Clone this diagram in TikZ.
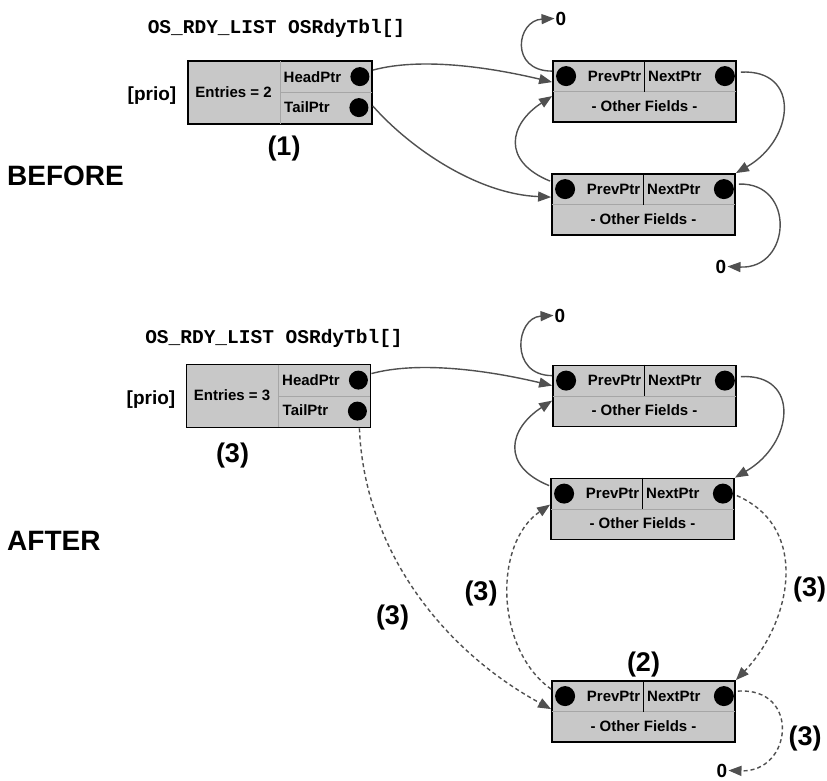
\documentclass[tikz,border=0pt]{standalone}
\usepackage{fontspec}
\setmainfont{Liberation Sans}
\setmonofont{Liberation Mono}
\usetikzlibrary{calc,arrows.meta}
\definecolor{boxgray}{HTML}{C8C8C8}
\definecolor{sepgray}{HTML}{A6A6A6}
\definecolor{linkgray}{HTML}{505050}

\newcommand\tcbnode[2]{%
  \node[tcbbox] (#1) at (#2) {};
  \draw[sepline] ($(#1.west)+(1,0)$) -- ($(#1.east)+(-1,0)$);
  \draw[black, line width=1.6pt] (#1.north) -- (#1.center);
  \node[dotn] (#1-p) at ($(#1.north west)+(14,16)$) {};
  \node[dotn] (#1-n) at ($(#1.north east)+(-12,16)$) {};
  \node[small, anchor=base east] (#1-pl) at ($(#1.north)+(-3,21)$) {PrevPtr};
  \node[small, anchor=base west] (#1-nl) at ($(#1.north)+(3.5,21)$) {NextPtr};
  \node[small, anchor=base] (#1-of) at ($(#1.north)+(0,51)$) {- Other Fields -};
}
\newcommand\rdylist[3]{%
  \node[listbox] (#1) at (#2) {};
  \draw[sepline] ($(#1.north)+(0,1)$) -- ($(#1.south)+(0,-1)$);
  \draw[sepline] (#1.center) -- ($(#1.east)+(-1,0)$);
  \node[dotn, minimum size=19pt] (#1-h) at ($(#1.north east)+(-13,16.5)$) {};
  \node[dotn, minimum size=19pt] (#1-t) at ($(#1.north east)+(-14,47.5)$) {};
  \node[small, anchor=base west] (#1-hl) at ($(#1.north)+(3.5,22)$) {HeadPtr};
  \node[small, anchor=base west] (#1-tl) at ($(#1.north)+(4,52)$) {TailPtr};
  \node[small, anchor=base] (#1-el) at ($(#1.north west)+(46.5,37)$) {Entries = #3};
}

\begin{document}
\begin{tikzpicture}[x=1pt,y=-1pt,
  tcbbox/.style={rectangle, draw=black, line width=1.8pt, fill=boxgray, minimum width=183pt, minimum height=61pt, inner sep=0pt},
  listbox/.style={rectangle, draw=black, line width=1.8pt, fill=boxgray, minimum width=184pt, minimum height=63pt, inner sep=0pt},
  sepline/.style={draw=sepgray, line width=0.8pt},
  dotn/.style={circle, fill=black, minimum size=20pt, inner sep=0pt},
  small/.style={font=\fontsize{15}{15}\selectfont\bfseries, inner sep=0pt},
  codetxt/.style={font=\fontsize{19.5}{20}\selectfont\ttfamily\bfseries, inner sep=0pt},
  prio/.style={font=\fontsize{19}{20}\selectfont\bfseries, inner sep=0pt},
  title/.style={font=\fontsize{28}{30}\selectfont\bfseries, inner sep=0pt},
  step3/.style={font=\fontsize{27}{28}\selectfont\bfseries, inner sep=0pt},
  zero/.style={font=\fontsize{19}{20}\selectfont\bfseries, inner sep=1pt},
  link/.style={draw=linkgray, line width=1.4pt, -{Triangle[length=13pt,width=10pt]}},
  dlink/.style={link, dash pattern=on 4pt off 3pt}]
\useasboundingbox (0,0) rectangle (827,780);

% ---------------- BEFORE ----------------
\node[codetxt, anchor=base] (code1) at (276.5,33.3) {OS\_RDY\_LIST OSRdyTbl[]};
\node[prio, anchor=base] (prio1) at (152,100.5) {[prio]};
\node[title, anchor=base west] (before) at (7,185) {BEFORE};
\node[step3, anchor=base] (s1) at (284,155) {(1)};
\node[zero, anchor=base] (z1) at (561,25) {0};
\node[zero, anchor=base] (z2) at (721,273) {0};

\rdylist{lb1}{280,92.5}{2}
\tcbnode{b1}{644.5,91.5}
\tcbnode{b2}{643.5,204.5}

\draw[link] ($(lb1.north east)+(0,10)$) .. controls +(48,-13) and +(-63,-15) .. ($(b1.north west)+(0,22)$);
\draw[link] ($(lb1.north east)+(0,46)$) .. controls +(38,43) and +(-73,-3) .. ($(b2.north west)+(0,24)$);
\draw[link] ($(b1.north east)+(4,12)$) .. controls +(60,-3) and +(59,-34) .. (b2.north east);
\draw[link] ($(b2.north west)+(-1,8)$) .. controls +(-49,-20) and +(-43,28) .. ($(b1.north west)+(0,36)$);
\draw[link] ($(b1.north west)+(0,11)$) .. controls +(-43,0) and +(-38,2) .. (z1.west);
\draw[link] ($(b2.north east)+(3,11)$) .. controls +(57,-2) and +(64,3) .. (z2.east);

% ---------------- AFTER ----------------
\node[codetxt, anchor=base] (code2) at (274,343.3) {OS\_RDY\_LIST OSRdyTbl[]};
\node[prio, anchor=base] (prio2) at (151,404) {[prio]};
\node[title, anchor=base west] (after) at (7,550) {AFTER};
\node[step3, anchor=base] (s3a) at (232.5,462) {(3)};
\node[step3, anchor=base] (s3b) at (392.5,624) {(3)};
\node[step3, anchor=base] (s3c) at (481,600.5) {(3)};
\node[step3, anchor=base] (s3d) at (809.5,596.5) {(3)};
\node[step3, anchor=base] (s3e) at (805,745) {(3)};
\node[step3, anchor=base] (s2) at (643.5,671.5) {(2)};
\node[zero, anchor=base] (z3) at (560,322) {0};
\node[zero, anchor=base] (z4) at (722,777) {0};

\rdylist{lb2}{278.5,396}{3}
\tcbnode{a1}{644.5,396}
\tcbnode{a2}{642.5,509}
\tcbnode{a3}{643.5,711.5}

\draw[link] ($(lb2.north east)+(0,10)$) .. controls +(48,-13) and +(-63,-15) .. ($(a1.north west)+(0,21)$);
\draw[link] ($(a1.north west)+(0,11)$) .. controls +(-43,0) and +(-38,2) .. (z3.west);
\draw[link] ($(a2.north west)+(-1,8)$) .. controls +(-49,-20) and +(-43,28) .. ($(a1.north west)+(0,36)$);
\draw[link] ($(a1.north east)+(4,12)$) .. controls +(60,-3) and +(59,-34) .. (a2.north east);
\draw[dlink] ($(lb2.south east)+(-12,0)$) .. controls +(5,120) and +(-110,-60) .. ($(a3.north west)+(0,29)$);
\draw[dlink] ($(a3.north west)+(0,9)$) .. controls +(-56,-40) and +(-57,39) .. ($(a2.north west)+(0,27)$);
\draw[dlink] ($(a2.north east)+(2,18)$) .. controls +(75,33) and +(54,-56) .. (a3.north east);
\draw[dlink] ($(a3.north east)+(2,11)$) .. controls +(63,-4) and +(64,2) .. (z4.east);
\end{tikzpicture}
\end{document}
